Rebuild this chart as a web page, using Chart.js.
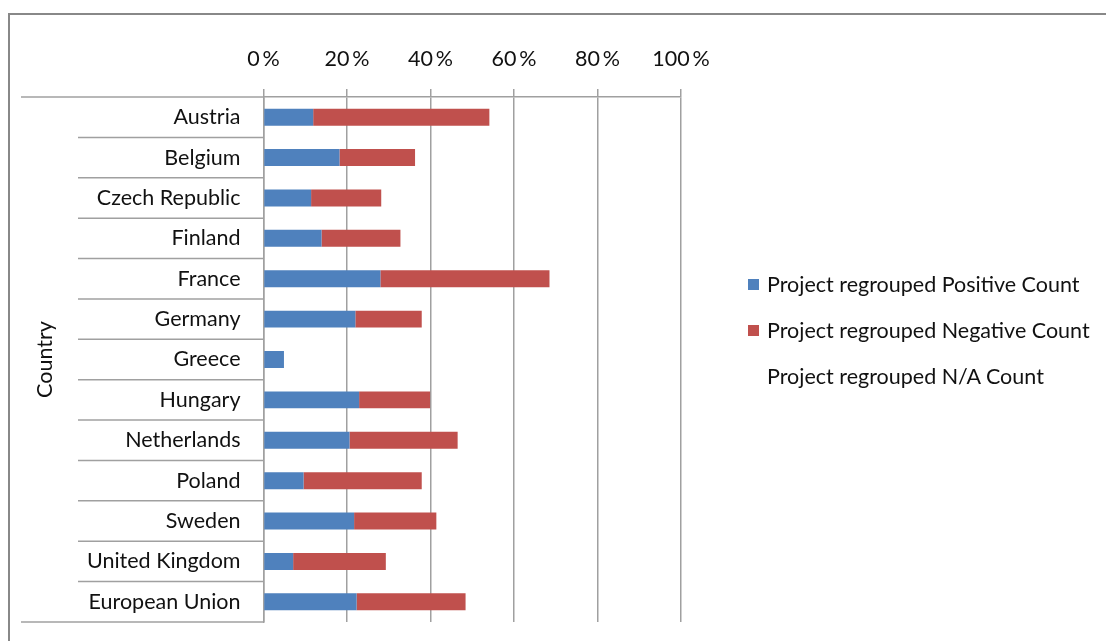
<!DOCTYPE html>
<html>
<head>
<meta charset="utf-8">
<script src="https://cdn.jsdelivr.net/npm/chart.js@4"></script>
<style>
  html, body { margin: 0; padding: 0; background: #fff; overflow: hidden; }
  #wrap { position: relative; width: 1106px; height: 641px; }
  #frame { position: absolute; left: 8px; top: 13px; width: 1200px; height: 700px; border: 2px solid #888; }
  #chart { position: absolute; left: 0; top: 0; }
  #legend { position: absolute; left: 748px; top: 271px; font-family: Lato, sans-serif; font-size: 21.5px; color: #111; }
  .item { height: 46px; display: flex; align-items: flex-start; }
  .box { width: 11px; height: 11px; margin: 8px 8px 0 0; }
</style>
</head>
<body>
<div id="wrap">
  <div id="frame"></div>
  <canvas id="chart" width="1106" height="641"></canvas>
  <div id="legend"></div>
</div>
<script>
const countries = ['Austria', 'Belgium', 'Czech Republic', 'Finland', 'France', 'Germany', 'Greece',
    'Hungary', 'Netherlands', 'Poland', 'Sweden', 'United Kingdom', 'European Union'];
const positiveCount = [11.9, 18.2, 11.4, 13.9, 28.0, 22.0, 4.9, 22.9, 20.6, 9.6, 21.7, 7.1, 22.3];
const negativeCount = [42.2, 18.1, 16.8, 18.9, 40.5, 15.9, 0, 17.0, 25.9, 28.3, 19.7, 22.2, 26.1];
const naCount = [45.9, 63.7, 71.8, 67.2, 31.5, 62.1, 95.1, 60.1, 53.5, 62.1, 58.6, 70.7, 51.6];
const percentTicks = [0, 20, 40, 60, 80, 100];

const labelFont = { family: 'Lato', size: 21.5 };
const lineColor = '#a0a0a0';

// table lines on the category side (Excel-style multi-level axis)
const tableLines = {
    id: 'tableLines',
    afterDraw(chart) {
        const y = chart.scales.y;
        const area = chart.chartArea;
        const ctx = chart.ctx;
        const step = y.getPixelForValue(1) - y.getPixelForValue(0);
        ctx.save();
        ctx.strokeStyle = lineColor;
        ctx.lineWidth = 1.5;
        for (let i = 0; i <= countries.length; i++) {
            const py = y.getPixelForValue(i) - step / 2;
            const outer = (i === 0 || i === countries.length);
            ctx.beginPath();
            ctx.moveTo(outer ? 21 : 78, py);
            ctx.lineTo(area.left, py);
            ctx.stroke();
        }
        ctx.restore();
    }
};

const datasets = [
    { label: 'Project regrouped Positive Count', data: positiveCount, backgroundColor: '#4F81BD', swatch: '#4F81BD' },
    { label: 'Project regrouped Negative Count', data: negativeCount, backgroundColor: '#C0504D', swatch: '#C0504D' },
    { label: 'Project regrouped N/A Count', data: naCount, backgroundColor: 'rgba(0,0,0,0)', swatch: 'transparent' },
];

const ctx = document.getElementById('chart').getContext('2d');
new Chart(ctx, {
    type: 'bar',
    data: {
        labels: countries,
        datasets: datasets.map(d => ({
            label: d.label,
            data: d.data,
            backgroundColor: d.backgroundColor,
            borderWidth: 0,
            categoryPercentage: 1,
            barPercentage: 0.42,
        })),
    },
    options: {
        indexAxis: 'y',
        responsive: false,
        animation: false,
        layout: { padding: { top: 0, left: 0, right: 425, bottom: 19 } },
        plugins: { legend: { display: false }, tooltip: { enabled: false } },
        scales: {
            x: {
                position: 'top',
                stacked: true,
                min: 0,
                max: 100,
                afterBuildTicks: s => { s.ticks = percentTicks.map(v => ({ value: v })); },
                ticks: {
                    callback: v => v + '\u2009%',
                    font: labelFont,
                    color: '#111',
                    padding: 17,
                    maxRotation: 0,
                },
                grid: { color: lineColor, lineWidth: 1.5, tickLength: 8 },
                border: { color: lineColor, width: 1.5 },
                afterFit: s => { s.height = 97; },
            },
            y: {
                stacked: true,
                grid: { display: false, drawTicks: false },
                border: { color: lineColor, width: 1.5 },
                ticks: { font: labelFont, color: '#111', padding: 23 },
                title: {
                    display: true,
                    text: 'Country',
                    font: labelFont,
                    color: '#111',
                    padding: { top: 32, bottom: 0 },
                },
                afterFit: s => {
                    s.width = 263.5;
                    s.paddingTop = 0;
                    s.paddingBottom = 0;
                },
            },
        },
    },
    plugins: [tableLines],
});

// legend in the right-hand column
const legend = document.getElementById('legend');
datasets.forEach(d => {
    const row = document.createElement('div');
    row.className = 'item';
    const box = document.createElement('span');
    box.className = 'box';
    box.style.background = d.swatch;
    const txt = document.createElement('span');
    txt.textContent = d.label;
    row.appendChild(box);
    row.appendChild(txt);
    legend.appendChild(row);
});
</script>
</body>
</html>
